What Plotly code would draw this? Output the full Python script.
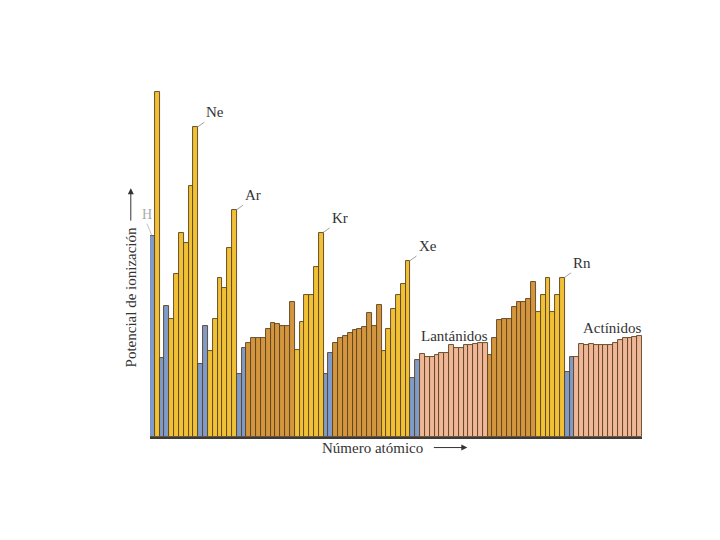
import plotly.graph_objects as go

# ionization potential (eV), Z = 1 .. 102
symbols = ["H", "He", "Li", "Be", "B", "C", "N", "O", "F", "Ne",
           "Na", "Mg", "Al", "Si", "P", "S", "Cl", "Ar", "K", "Ca",
           "Sc", "Ti", "V", "Cr", "Mn", "Fe", "Co", "Ni", "Cu", "Zn",
           "Ga", "Ge", "As", "Se", "Br", "Kr", "Rb", "Sr", "Y", "Zr",
           "Nb", "Mo", "Tc", "Ru", "Rh", "Pd", "Ag", "Cd", "In", "Sn",
           "Sb", "Te", "I", "Xe", "Cs", "Ba", "La", "Ce", "Pr", "Nd",
           "Pm", "Sm", "Eu", "Gd", "Tb", "Dy", "Ho", "Er", "Tm", "Yb",
           "Lu", "Hf", "Ta", "W", "Re", "Os", "Ir", "Pt", "Au", "Hg",
           "Tl", "Pb", "Bi", "Po", "At", "Rn", "Fr", "Ra", "Ac", "Th",
           "Pa", "U", "Np", "Pu", "Am", "Cm", "Bk", "Cf", "Es", "Fm",
           "Md", "No"]

potential = [14.3, 24.5, 5.6, 9.3, 8.4, 11.6, 14.5, 13.8, 17.8, 22.0,
             5.2, 7.9, 6.1, 8.4, 11.3, 10.6, 13.4, 16.1, 4.5, 6.3,
             6.7, 7.0, 7.0, 7.0, 7.7, 8.1, 8.0, 7.9, 7.9, 9.6,
             6.2, 8.2, 10.1, 10.1, 12.1, 14.5, 4.5, 6.0, 6.7, 7.0,
             7.2, 7.4, 7.6, 7.7, 7.8, 8.8, 7.9, 9.4, 6.1, 7.7,
             9.1, 10.1, 10.9, 12.5, 4.2, 5.5, 5.9, 5.7, 5.7, 5.8,
             6.0, 6.0, 6.5, 6.3, 6.3, 6.5, 6.5, 6.6, 6.7, 6.7,
             5.8, 7.0, 8.3, 8.4, 8.4, 9.2, 9.6, 9.6, 9.8, 11.0,
             8.9, 10.1, 11.3, 8.9, 10.1, 11.3, 4.6, 5.7, 5.7, 6.6,
             6.5, 6.6, 6.5, 6.5, 6.5, 6.5, 6.7, 6.9, 7.0, 7.0,
             7.1, 7.2]

# block of each element: s = blue, p = yellow, d = orange, f = pink
blocks = (["s", "p"] + ["s"] * 2 + ["p"] * 6 + ["s"] * 2 + ["p"] * 6
          + ["s"] * 2 + ["d"] * 10 + ["p"] * 6
          + ["s"] * 2 + ["d"] * 10 + ["p"] * 6
          + ["s"] * 2 + ["f"] * 14 + ["d"] * 10 + ["p"] * 6
          + ["s"] * 2 + ["f"] * 14)

labelled = ["Ne", "Ar", "Kr", "Xe", "Rn"]

block_colors = {"s": "#7d9bcb", "p": "#f1c135", "d": "#d3963e", "f": "#efb697"}

serif = "Liberation Serif"

z = list(range(1, len(symbols) + 1))

fig = go.Figure()
fig.add_trace(go.Bar(
    x=z, y=potential, text=symbols, hoverinfo="text+y", textposition="none",
    marker=dict(color=[block_colors[b] for b in blocks],
                line=dict(color="#5a4120", width=0.9)),
    width=1.0,
))

# labels of the noble gases with short leader lines
for s in labelled:
    i = symbols.index(s)
    fig.add_annotation(x=z[i] + 0.3, y=potential[i], text=s, showarrow=True,
                       arrowhead=0, arrowwidth=0.7, arrowcolor="#777777",
                       ax=7, ay=-5, xanchor="left", yanchor="bottom",
                       font=dict(family=serif, size=15, color="#333333"))

fig.add_annotation(x=z[0] - 0.1, y=potential[0], text="H", showarrow=True,
                   arrowhead=0, arrowwidth=0.7, arrowcolor="#aaaaaa",
                   ax=-5, ay=-12, xanchor="center", yanchor="bottom",
                   font=dict(family=serif, size=14, color="#aaaaaa"))

fig.add_annotation(x=symbols.index("Eu") + 1.7, y=6.45, text="Lantánidos", showarrow=False,
                   xanchor="center", yanchor="bottom",
                   font=dict(family=serif, size=15, color="#333333"))
fig.add_annotation(x=symbols.index("Bk") + 0.2, y=7.0, text="Actínidos", showarrow=False,
                   xanchor="center", yanchor="bottom",
                   font=dict(family=serif, size=15, color="#333333"))

# axis titles with their arrows
fig.add_annotation(xref="paper", yref="paper", x=-0.039, y=0.396, text="Potencial de ionización",
                   textangle=-90, showarrow=False, xanchor="center", yanchor="middle",
                   font=dict(family=serif, size=15, color="#333333"))
fig.add_annotation(xref="paper", yref="paper", x=-0.039, y=0.707, ax=0, ay=34,
                   text="", showarrow=True,
                   arrowhead=2, arrowsize=1.2, arrowwidth=1, arrowcolor="#333333")

fig.add_annotation(xref="paper", yref="paper", x=0.452, y=-0.03, text="Número atómico",
                   showarrow=False, xanchor="center", yanchor="middle",
                   font=dict(family=serif, size=15, color="#333333"))
fig.add_annotation(xref="paper", yref="paper", x=0.645, y=-0.03, ax=-35, ay=0,
                   text="", showarrow=True,
                   arrowhead=2, arrowsize=1.2, arrowwidth=1, arrowcolor="#333333")

fig.update_layout(
    width=720, height=540, autosize=False,
    margin=dict(l=142, r=86, t=77, b=111),
    paper_bgcolor="white", plot_bgcolor="white",
    bargap=0, showlegend=False,
    xaxis=dict(range=[0.5, 102.5], showticklabels=False, ticks="", showgrid=False,
               zeroline=False, showline=True, linecolor="#3a3a3a", linewidth=1.5),
    yaxis=dict(range=[0, 25], showticklabels=False, ticks="", showgrid=False,
               zeroline=False, showline=False),
)

fig.write_html("out.html")
